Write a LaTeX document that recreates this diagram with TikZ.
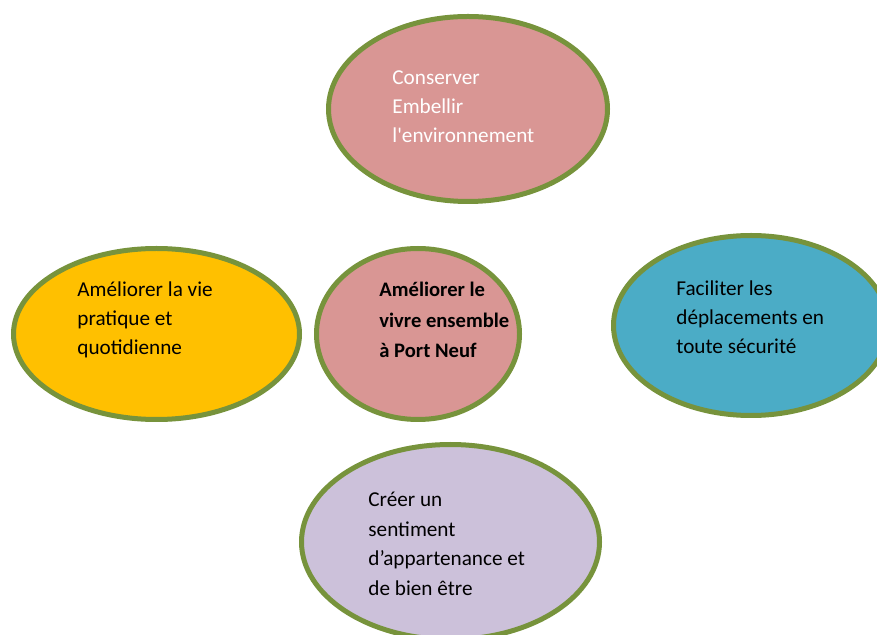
\documentclass[tikz,border=0pt]{standalone}
\usepackage{fontspec}
\setmainfont{Carlito}
\usepackage{xcolor}
\usetikzlibrary{shapes.geometric}

\definecolor{rim}{HTML}{77933C}
\definecolor{rose}{HTML}{D99694}
\definecolor{gold}{HTML}{FFC000}
\definecolor{sea}{HTML}{4BACC6}
\definecolor{lilac}{HTML}{CCC1DA}

\begin{document}
\begin{tikzpicture}[x=0.5pt, y=-0.5pt,
  goal/.style={ellipse, draw=rim, line width=2.5pt, inner sep=0pt},
  txt/.style={anchor=base west, align=left, inner sep=0pt, font=\fontsize{10.6}{14.7}\selectfont}]

\useasboundingbox (0,0) rectangle (877,635);
\clip (0,0) rectangle (877,635);


\node[goal, fill=rose, minimum width=139.5pt, minimum height=92.5pt] (env) at (468,109) {};
\node[goal, fill=gold, minimum width=143pt, minimum height=85.5pt] (vie) at (156.5,334) {};
\node[goal, fill=rose, minimum width=101.5pt, minimum height=85.5pt] (port) at (418,334) {};
\node[goal, fill=sea, minimum width=137.5pt, minimum height=90pt] (depl) at (751,325.5) {};
\node[goal, fill=lilac, minimum width=149pt, minimum height=97.5pt] (appart) at (450.5,542) {};


% texts: anchored at the baseline of their last line
\node[txt, text=white] (envtxt) at (392,143) {Conserver\\Embellir\\l\textquotesingle environnement};
\node[txt] (vietxt) at (77,355) {Améliorer la vie\\pratique et\\quotidienne};
\node[txt, font=\fontsize{10.3}{15.3}\selectfont\bfseries] (porttxt) at (379,358) {Améliorer le\\vivre ensemble\\à Port Neuf};
\node[txt] (depltxt) at (676,354) {Faciliter les\\déplacements en\\toute sécurité};
\node[txt] (apparttxt) at (368,595) {Créer un\\sentiment\\d’appartenance et\\de bien être};

\end{tikzpicture}
\end{document}
